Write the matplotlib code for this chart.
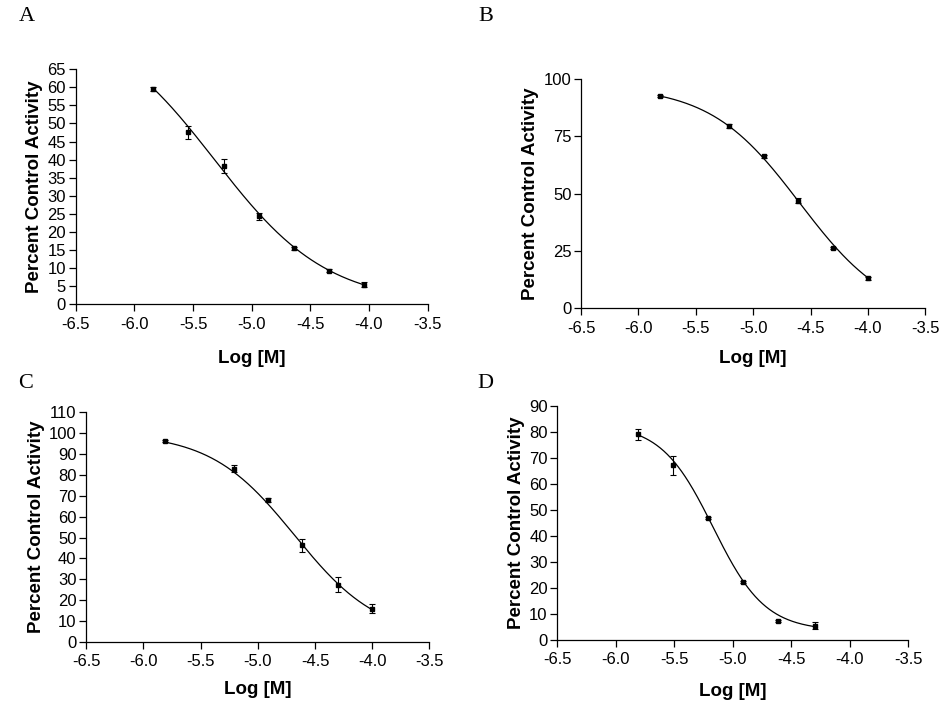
import numpy as np
import matplotlib
matplotlib.use("Agg")
import matplotlib.pyplot as plt
from matplotlib.ticker import MultipleLocator, FormatStrFormatter

plt.rcParams['font.family'] = ['Liberation Sans', 'DejaVu Sans']
plt.rcParams['axes.unicode_minus'] = False

# panel A
logA = [-5.84, -5.54, -5.24, -4.94, -4.64, -4.34, -4.04]
actA = [59.6, 47.5, 38.2, 24.3, 15.4, 9.2, 5.3]
errA = [0.5, 1.8, 2.0, 1.0, 0.4, 0.4, 0.7]
fitA = [80.0, 0.0, -5.318, 0.90]  # top, bottom, logIC50, hill

# panel B
logB = [-5.81, -5.21, -4.91, -4.61, -4.30, -4.00]
actB = [92.6, 79.5, 66.4, 47.0, 26.3, 13.0]
errB = [0.5, 0.8, 0.6, 1.2, 0.6, 0.5]
fitB = [97.0, -5.0, -4.595, 1.11]

# panel C
logC = [-5.815, -5.21, -4.91, -4.61, -4.30, -4.00]
actC = [96.2, 83.0, 67.8, 46.2, 27.5, 16.0]
errC = [0.5, 1.8, 0.9, 3.0, 3.4, 2.1]
fitC = [100.0, 2.0, -4.678, 1.18]

# panel D
logD = [-5.81, -5.51, -5.21, -4.91, -4.61, -4.30]
actD = [79.0, 67.1, 46.9, 22.2, 7.3, 5.4]
errD = [2.0, 3.6, 0.5, 0.5, 0.5, 1.3]
fitD = [83.0, 3.5, -5.168, 1.95]

# name, data..., y max, y step, axes rect, xlabel pad
panels = [
    ("A", logA, actA, errA, fitA, 65, 5, [0.080, 0.570, 0.371, 0.332], 13),
    ("B", logB, actB, errB, fitB, 100, 25, [0.613, 0.564, 0.363, 0.324], 10),
    ("C", logC, actC, errC, fitC, 110, 10, [0.091, 0.092, 0.362, 0.325], 8),
    ("D", logD, actD, errD, fitD, 90, 10, [0.588, 0.095, 0.370, 0.331], 11),
]
letter_pos = {"A": (0.0285, 0.976), "B": (0.512, 0.976), "C": (0.027, 0.458), "D": (0.512, 0.458)}

fig = plt.figure(figsize=(9.48, 7.07), dpi=100)

for name, x, y, e, p, ytop, ystep, rect, xpad in panels:
    ax = fig.add_axes(rect)
    top, bot, c, h = p
    xx = np.linspace(min(x), max(x), 200)
    yy = bot + (top - bot) / (1 + 10 ** ((xx - c) * h))
    ax.plot(xx, yy, color='black', lw=0.9)
    ax.errorbar(x, y, yerr=e, fmt='s', color='black', ms=3.5, capsize=2.5,
                elinewidth=0.8, capthick=0.8)
    ax.set_xlim(-6.5, -3.5)
    ax.set_ylim(0, ytop)
    ax.xaxis.set_major_locator(MultipleLocator(0.5))
    ax.xaxis.set_major_formatter(FormatStrFormatter('%.1f'))
    ax.yaxis.set_major_locator(MultipleLocator(ystep))
    ax.spines['top'].set_visible(False)
    ax.spines['right'].set_visible(False)
    for s in ('left', 'bottom'):
        ax.spines[s].set_linewidth(0.9)
    ax.tick_params(direction='out', length=5, width=0.9, labelsize=12)
    ax.tick_params(axis='x', pad=4)
    ax.tick_params(axis='y', pad=2)
    ax.set_xlabel('Log [M]', fontsize=13.5, fontweight='bold', labelpad=xpad)
    ax.set_ylabel('Percent Control Activity', fontsize=13.5, fontweight='bold', labelpad=3)
    lx, ly = letter_pos[name]
    fig.text(lx, ly, name, family='Liberation Serif', fontsize=16, va='center', ha='center')

fig.savefig('out.png', dpi=100)
